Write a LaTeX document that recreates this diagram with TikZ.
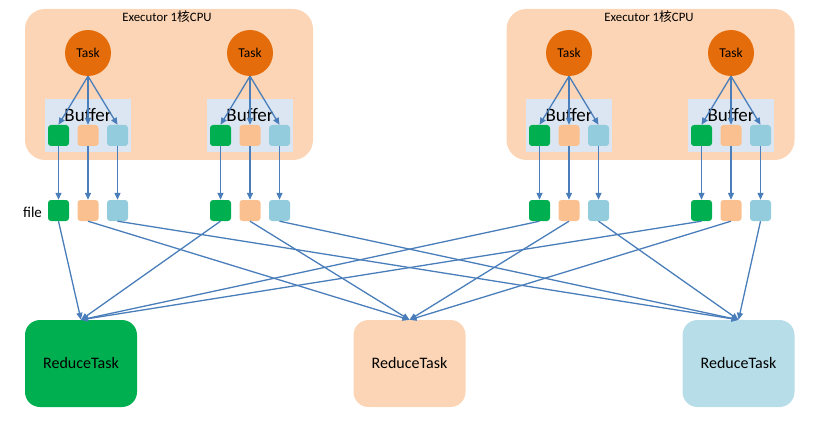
\documentclass[tikz,border=0pt]{standalone}
\usepackage{fontspec}
\setmainfont{Carlito}
\newfontfamily\cjk{Noto Sans CJK SC}
\usepackage{tikz}
\usetikzlibrary{arrows.meta}

\definecolor{peach}{HTML}{FBD5B5}
\definecolor{taskorange}{HTML}{E46C0A}
\definecolor{bufblue}{HTML}{DCE6F2}
\definecolor{sqgreen}{HTML}{00B050}
\definecolor{sqorange}{HTML}{FAC090}
\definecolor{sqblue}{HTML}{93CDDD}
\definecolor{redblue}{HTML}{B7DEE8}
\definecolor{flowblue}{HTML}{4A7EBB}

\tikzset{
  exec/.style={fill=peach, rounded corners=20pt, minimum width=288pt, minimum height=151pt, inner sep=0pt},
  task/.style={circle, fill=taskorange, minimum size=46pt, inner sep=0pt, font=\fontsize{13.5}{15}\selectfont},
  buf/.style={fill=bufblue, minimum width=86pt, minimum height=53pt, inner sep=0pt},
  buftext/.style={inner sep=0pt, font=\fontsize{19}{22}\selectfont},
  sq/.style={rounded corners=3pt, minimum size=21pt, inner sep=0pt},
  reduce/.style={rounded corners=15pt, minimum width=112pt, minimum height=87pt, inner sep=0pt, font=\fontsize{16}{19}\selectfont},
  flow/.style={flowblue, line width=1.3pt, -{Triangle[length=7pt,width=6pt]}}
}

\begin{document}
\begin{tikzpicture}[x=1pt,y=-1pt]

\useasboundingbox (0,0) rectangle (821,422);

\node[exec] (ex1) at (169,84.5) {};
\node[exec] (ex2) at (650.5,84.5) {};
\node[font=\fontsize{12.8}{15}\selectfont] (ex1label) at (167,17) {Executor 1{\cjk 核}CPU};
\node[font=\fontsize{12.8}{15}\selectfont] (ex2label) at (649,17) {Executor 1{\cjk 核}CPU};

\foreach \g/\x in {1/88,2/250,3/569,4/731}{
  \node[task] (t\g) at (\x,53) {Task};
  \node[buf] (b\g) at (\x,125.5) {};
  \node[buftext] (bt\g) at (\x,115) {Buffer};
  \foreach \k/\c/\d in {1/sqgreen/-29.5,2/sqorange/0,3/sqblue/29.5}{
    \node[sq, fill=\c] (s\g\k) at (\x+\d,135.5) {};
    \node[sq, fill=\c] (f\g\k) at (\x+\d,210.5) {};
  }
}

\node[font=\fontsize{15}{18}\selectfont] (filelabel) at (32.5,212) {file};

\node[reduce, fill=sqgreen] (r1) at (81,363.5) {ReduceTask};
\node[reduce, fill=peach] (r2) at (409.5,363.5) {ReduceTask};
\node[reduce, fill=redblue] (r3) at (738.5,363.5) {ReduceTask};

\foreach \g in {1,...,4}{
  \foreach \k in {1,2,3}{
    \draw[flow] (t\g.south) -- (s\g\k.north);
    \draw[flow] (s\g\k.south) -- (f\g\k.north);
    \draw[flow] (f\g\k.south) -- (r\k.north);
  }
}

\end{tikzpicture}
\end{document}
